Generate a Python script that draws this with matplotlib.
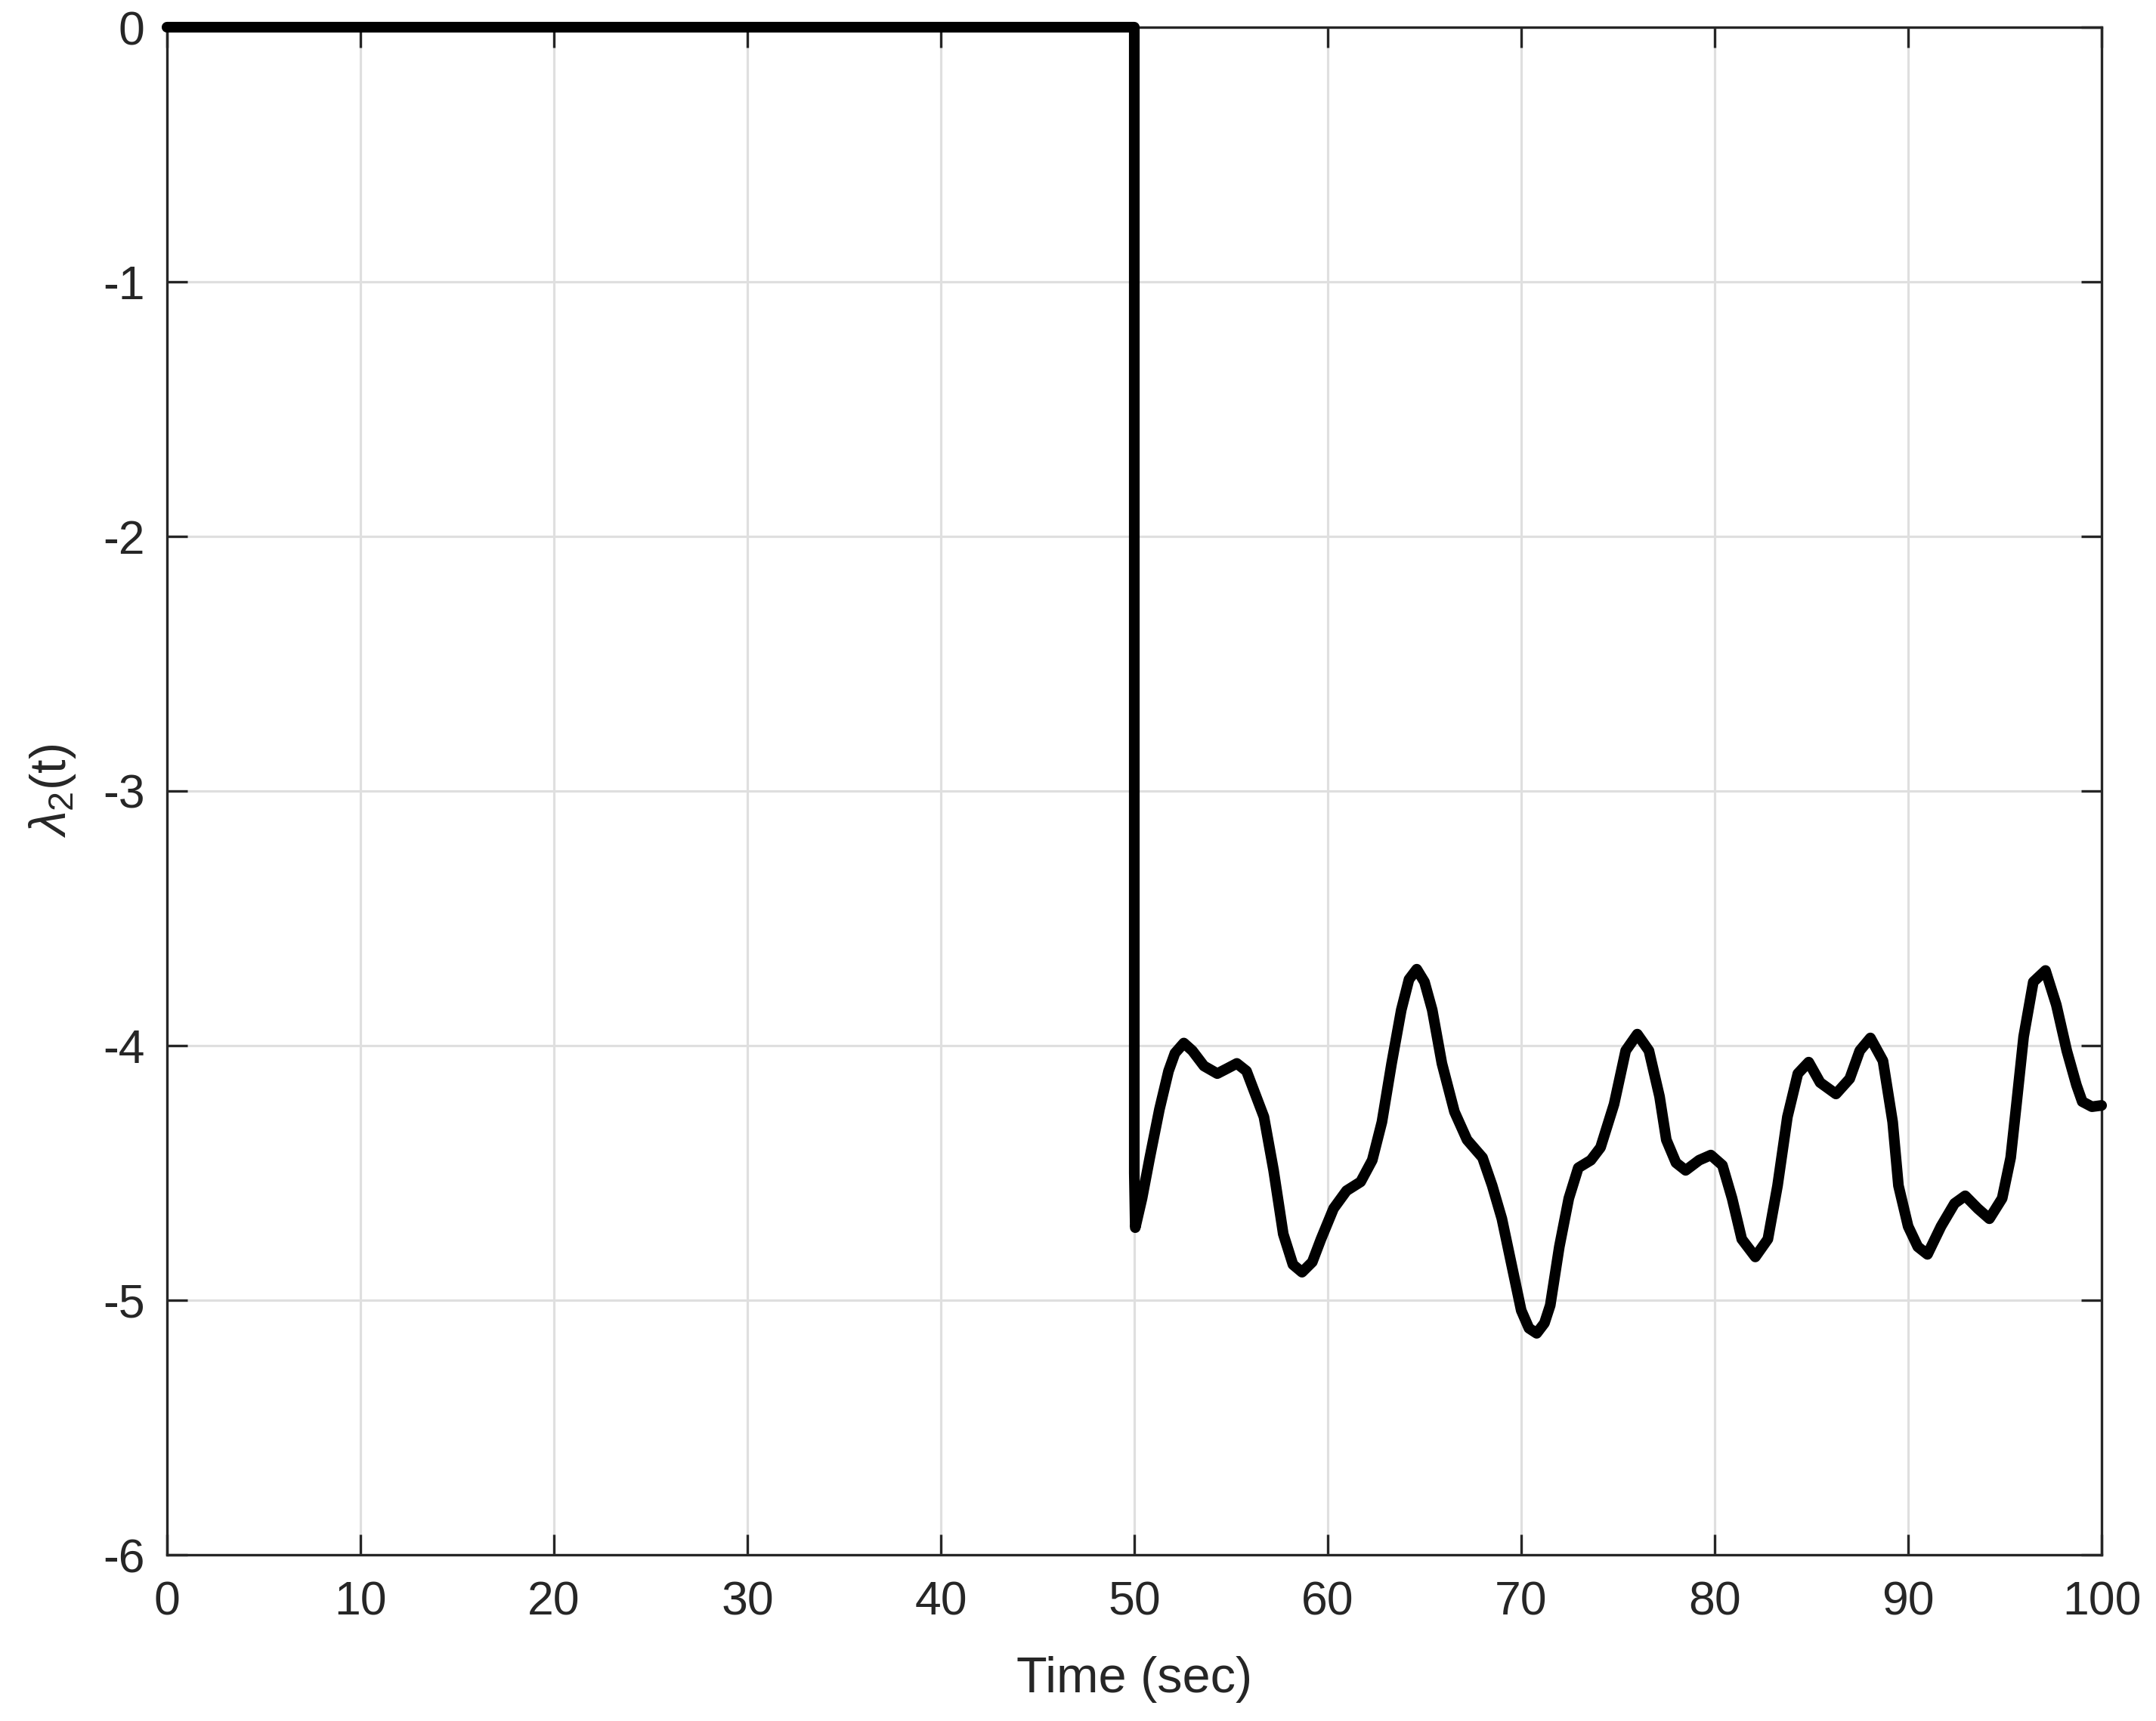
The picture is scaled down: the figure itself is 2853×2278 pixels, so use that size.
import numpy as np
import matplotlib
matplotlib.use("Agg")
import matplotlib.pyplot as plt

plt.rcParams['font.family'] = ['Liberation Sans', 'DejaVu Sans']
plt.rcParams['mathtext.fontset'] = 'custom'
plt.rcParams['mathtext.rm'] = 'Liberation Sans'
plt.rcParams['mathtext.it'] = 'Liberation Sans:italic'

# lambda_2(t)
t_vals = [0, 50, 50.0, 50.05, 50.4, 50.8, 51.3, 51.77, 52.1, 52.56, 53.0, 53.6, 54.29, 54.8, 55.3,
          55.8, 56.2, 56.7, 57.2, 57.7, 58.2, 58.67, 59.2, 59.65, 60.3, 60.97, 61.7, 62.3, 62.8,
          63.3, 63.8, 64.2, 64.6, 65.0, 65.4, 65.9, 66.55, 67.2, 68.0, 68.5, 69.0, 69.5, 70.0,
          70.4, 70.8, 71.2, 71.5, 71.97, 72.46, 72.95, 73.6, 74.1, 74.8, 75.4, 76.0, 76.6, 77.15,
          77.5, 78.0, 78.5, 79.2, 79.8, 80.4, 80.9, 81.4, 82.1, 82.75, 83.25, 83.76, 84.3, 84.86,
          85.45, 86.27, 86.98, 87.5, 88.05, 88.7, 89.2, 89.5, 90.0, 90.5, 91.0, 91.7, 92.4, 92.95,
          93.6, 94.2, 94.86, 95.3, 95.6, 95.97, 96.47, 97.1, 97.66, 98.2, 98.7, 99.0, 99.5, 100]
lam_vals = [0, 0, -4.5, -4.715, -4.6, -4.44, -4.25, -4.10, -4.03, -3.99, -4.02, -4.08, -4.11, -4.09, -4.07,
            -4.1, -4.18, -4.28, -4.49, -4.74, -4.86, -4.89, -4.85, -4.76, -4.64, -4.57, -4.535, -4.45, -4.30,
            -4.07, -3.86, -3.74, -3.70, -3.75, -3.86, -4.07, -4.26, -4.37, -4.44, -4.55, -4.68, -4.86, -5.04,
            -5.11, -5.13, -5.09, -5.02, -4.79, -4.6, -4.48, -4.45, -4.40, -4.23, -4.02, -3.955, -4.02, -4.2,
            -4.37, -4.46, -4.49, -4.45, -4.43, -4.47, -4.6, -4.76, -4.83, -4.76, -4.55, -4.28, -4.11, -4.065,
            -4.145, -4.19, -4.13, -4.02, -3.97, -4.06, -4.30, -4.55, -4.71, -4.79, -4.82, -4.71, -4.62, -4.59,
            -4.64, -4.68, -4.6, -4.44, -4.23, -3.965, -3.75, -3.705, -3.84, -4.02, -4.155, -4.22, -4.24, -4.235]

W, H = 2853, 2278
fig = plt.figure(figsize=(W / 300, H / 300), dpi=300)
ax = fig.add_axes([221 / W, 1 - 2058 / H, 2560 / W, 2022 / H])

ax.plot(t_vals, lam_vals, color="black", lw=3.4, solid_joinstyle="round",
        solid_capstyle="round", clip_on=False, zorder=5)

ax.set_xlim(0, 100)
ax.set_ylim(-6, 0)
ax.set_xticks(np.arange(0, 101, 10))
ax.set_yticks(np.arange(-6, 1, 1))
ax.set_yticklabels([str(v) for v in range(-6, 1)])

axc = "#262626"
ax.grid(True, color="#dfdfdf", lw=0.75)
ax.set_axisbelow(True)
for s in ax.spines.values():
    s.set_color(axc)
    s.set_linewidth(0.8)
ax.tick_params(direction="in", length=6.5, width=0.8, colors=axc, labelsize=15,
               top=True, right=True)
ax.tick_params(axis="x", pad=8)
ax.tick_params(axis="y", pad=7)

ax.set_xlabel("Time (sec)", fontsize=16, color=axc, labelpad=10)
ax.set_ylabel(r"$\lambda_2$(t)", fontsize=16, color=axc, labelpad=8)

fig.savefig("out.png", dpi=300)
